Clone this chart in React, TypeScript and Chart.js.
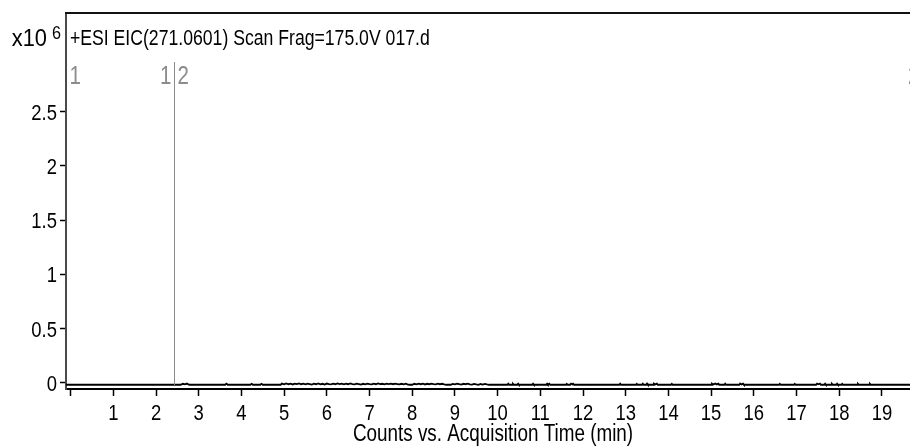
import React, { useEffect, useRef } from "react";
import { Chart, registerables } from "chart.js";

Chart.register(...registerables);

// ---- Data ----
const chartTitle = "+ESI EIC(271.0601) Scan Frag=175.0V 017.d";
const xAxisTitle = "Counts vs. Acquisition Time (min)";
const yMultiplierBase = "x10";
const yMultiplierExp = "6";

const xTickValues = [0, 1, 2, 3, 4, 5, 6, 7, 8, 9, 10, 11, 12, 13, 14, 15, 16, 17, 18, 19];
const xTickLabels = ["", "1", "2", "3", "4", "5", "6", "7", "8", "9", "10", "11", "12", "13", "14", "15", "16", "17", "18", "19"];
const yTickValues = [0, 0.5, 1, 1.5, 2, 2.5];
const yTickLabels = ["0", "0.5", "1", "1.5", "2", "2.5"];

// segment boundaries (min) and their labels on each side
const segmentBoundaries = [-0.108, 2.433, 19.95];
const segmentLabelsLeft = ["", "1", "2"]; // label to the left of boundary
const segmentLabelsRight = ["1", "2", ""]; // label to the right of boundary

// trace, time (min) / counts (x10^6)
const earlyTrace: [number, number][] = [
  [-0.11, -0.018], [2.58, -0.018], [2.63, -0.009], [2.68, -0.014], [2.72, -0.007], [2.78, -0.018],
  [3.62, -0.018], [3.65, -0.008], [3.68, -0.018],
  [4.21, -0.018], [4.24, -0.009], [4.27, -0.018],
  [4.44, -0.018], [4.47, -0.009], [4.50, -0.018], [4.92, -0.018],
];
const noiseTrace: [number, number][] = [
  [4.95, -0.007], [5.00, -0.014], [5.05, -0.006], [5.10, -0.013], [5.15, -0.008], [5.20, -0.015],
  [5.25, -0.007], [5.30, -0.012], [5.35, -0.006], [5.40, -0.013], [5.45, -0.008], [5.50, -0.014],
  [5.55, -0.007], [5.60, -0.011], [5.65, -0.016], [5.70, -0.008], [5.75, -0.013], [5.80, -0.006],
  [5.85, -0.014], [5.90, -0.009], [5.95, -0.016], [6.00, -0.007], [6.05, -0.012], [6.10, -0.015],
  [6.15, -0.008], [6.20, -0.013], [6.25, -0.006], [6.30, -0.012], [6.35, -0.008], [6.40, -0.014],
  [6.45, -0.007], [6.50, -0.013], [6.55, -0.006], [6.60, -0.011], [6.65, -0.015], [6.70, -0.008],
  [6.75, -0.012], [6.80, -0.016], [6.85, -0.009], [6.90, -0.014], [6.95, -0.007], [7.00, -0.012],
  [7.05, -0.015], [7.10, -0.008], [7.15, -0.013], [7.20, -0.006], [7.25, -0.012], [7.30, -0.009],
  [7.35, -0.014], [7.40, -0.007], [7.45, -0.012], [7.50, -0.008], [7.55, -0.013], [7.60, -0.007],
  [7.65, -0.011], [7.70, -0.015], [7.75, -0.009], [7.80, -0.014], [7.85, -0.008], [7.90, -0.016],
  [7.95, -0.018], [8.00, -0.018], [8.05, -0.009], [8.10, -0.014], [8.15, -0.007], [8.20, -0.013],
  [8.25, -0.008], [8.30, -0.015], [8.35, -0.009], [8.40, -0.013], [8.45, -0.007], [8.50, -0.012],
  [8.55, -0.015], [8.60, -0.008], [8.65, -0.013], [8.70, -0.009], [8.75, -0.015], [8.80, -0.018],
  [8.90, -0.018], [8.95, -0.010], [9.00, -0.014], [9.05, -0.008], [9.10, -0.013], [9.15, -0.016],
  [9.20, -0.009], [9.25, -0.013], [9.30, -0.008], [9.35, -0.014], [9.40, -0.017], [9.45, -0.010],
  [9.50, -0.015], [9.55, -0.018], [9.60, -0.011], [9.65, -0.016], [9.70, -0.010], [9.75, -0.015],
  [9.80, -0.018],
];
const lateTrace: [number, number][] = [
  [10.23, -0.018], [10.25, -0.008], [10.27, -0.018],
  [10.34, -0.018], [10.36, -0.009], [10.38, -0.018],
  [10.46, -0.018], [10.48, -0.008], [10.50, -0.018],
  [10.81, -0.018], [10.83, -0.008], [10.85, -0.018],
  [11.14, -0.018], [11.16, -0.007], [11.18, -0.016], [11.21, -0.008], [11.23, -0.018],
  [11.60, -0.018], [11.62, -0.009], [11.64, -0.018],
  [11.70, -0.018], [11.72, -0.007], [11.75, -0.014], [11.77, -0.008], [11.79, -0.018],
  [12.85, -0.018], [12.87, -0.008], [12.89, -0.018],
  [13.24, -0.018], [13.26, -0.009], [13.28, -0.018],
  [13.38, -0.018], [13.40, -0.008], [13.42, -0.018],
  [13.48, -0.018], [13.50, -0.007], [13.52, -0.018],
  [13.64, -0.018], [13.66, -0.008], [13.69, -0.015], [13.73, -0.008], [13.75, -0.018],
  [14.06, -0.018], [14.08, -0.009], [14.10, -0.018],
  [15.00, -0.018], [15.02, -0.008], [15.05, -0.015], [15.10, -0.007], [15.13, -0.015], [15.17, -0.008], [15.19, -0.018],
  [15.31, -0.018], [15.33, -0.008], [15.35, -0.018],
  [15.66, -0.018], [15.68, -0.007], [15.71, -0.015], [15.75, -0.008], [15.77, -0.018],
  [16.59, -0.018], [16.61, -0.010], [16.63, -0.018],
  [16.94, -0.018], [16.96, -0.009], [16.98, -0.018],
  [17.46, -0.018], [17.48, -0.007], [17.51, -0.014], [17.55, -0.008], [17.57, -0.018],
  [17.65, -0.018], [17.67, -0.008], [17.69, -0.018],
  [17.81, -0.018], [17.83, -0.009], [17.85, -0.018],
  [17.93, -0.018], [17.95, -0.008], [17.97, -0.018],
  [18.05, -0.018], [18.07, -0.009], [18.09, -0.018],
  [18.42, -0.018], [18.44, -0.009], [18.46, -0.018],
  [18.70, -0.018], [18.72, -0.009], [18.74, -0.018],
  [19.70, -0.018],
];

// ---- Layout / style ----
const W = 910;
const H = 448;
const X_MIN = -0.108;
const X_MAX = 19.658;
const Y_MIN = -0.057;
const Y_MAX = 3.408;
const PLOT_LEFT = 66;
const PLOT_TOP = 13;
const PLOT_BOTTOM = 389;
const FONT = '"Liberation Sans", Arial, Helvetica, sans-serif';
const NARROW = 0.82;

function narrowText(
  ctx: CanvasRenderingContext2D,
  text: string,
  x: number,
  y: number,
  size: number,
  align: CanvasTextAlign,
  color: string,
  sx: number = NARROW
) {
  ctx.save();
  ctx.font = `${size}px ${FONT}`;
  ctx.fillStyle = color;
  ctx.textAlign = align;
  ctx.textBaseline = "alphabetic";
  ctx.translate(x, y);
  ctx.scale(sx, 1);
  ctx.fillText(text, 0, 0);
  ctx.restore();
}

const decorPlugin = {
  id: "decor",
  afterDatasetsDraw(chart: any) {
    const ctx: CanvasRenderingContext2D = chart.ctx;
    const xs = chart.scales.x;
    const area = chart.chartArea;

    // segment boundary lines + labels
    ctx.save();
    ctx.strokeStyle = "#8c8c8c";
    ctx.lineWidth = 1;
    segmentBoundaries.forEach((t, i) => {
      const px = Math.round(xs.getPixelForValue(t)) + 0.5;
      if (i > 0 && px < area.right) {
        ctx.beginPath();
        ctx.moveTo(px, 62);
        ctx.lineTo(px, area.bottom - 4);
        ctx.stroke();
      }
      if (segmentLabelsLeft[i]) narrowText(ctx, segmentLabelsLeft[i], px - 3, 84, 25, "right", "#8c8c8c");
      if (segmentLabelsRight[i]) narrowText(ctx, segmentLabelsRight[i], px + 3, 84, 25, "left", "#8c8c8c");
    });
    ctx.restore();
  },
  afterDraw(chart: any) {
    const ctx: CanvasRenderingContext2D = chart.ctx;
    const xs = chart.scales.x;
    const ys = chart.scales.y;
    const area = chart.chartArea;

    // top frame line
    ctx.save();
    ctx.strokeStyle = "#111";
    ctx.lineWidth = 2;
    ctx.beginPath();
    ctx.moveTo(area.left - 1, area.top);
    ctx.lineTo(W, area.top);
    ctx.stroke();
    ctx.restore();

    // x tick labels
    xTickValues.forEach((v, i) => {
      const lbl = xTickLabels[i];
      if (!lbl) return;
      narrowText(ctx, lbl, xs.getPixelForValue(v), 420, 22.5, "center", "#000");
    });
    // y tick labels
    yTickValues.forEach((v, i) => {
      narrowText(ctx, yTickLabels[i], 57, ys.getPixelForValue(v) + 8, 22.5, "right", "#000");
    });
    // axis title
    narrowText(ctx, xAxisTitle, 493, 441, 23, "center", "#000");
    // chart title
    narrowText(ctx, chartTitle, 70, 45, 21.5, "left", "#000");
    // multiplier
    narrowText(ctx, yMultiplierBase, 47, 46, 23, "right", "#000", 0.95);
    narrowText(ctx, yMultiplierExp, 52, 39, 18, "left", "#000", 0.9);
  },
};

export default function App() {
  const ref = useRef<HTMLCanvasElement | null>(null);

  useEffect(() => {
    if (!ref.current) return;
    const points = [...earlyTrace, ...noiseTrace, ...lateTrace].map(([x, y]) => ({ x, y }));
    const chart = new Chart(ref.current, {
      type: "line",
      data: {
        datasets: [
          {
            data: points,
            borderColor: "#000",
            borderWidth: 1.8,
            pointRadius: 0,
            tension: 0,
            fill: false,
          },
        ],
      },
      options: {
        animation: false,
        responsive: false,
        devicePixelRatio: 1,
        layout: { padding: { top: PLOT_TOP, left: 0, right: 0, bottom: 0 } },
        plugins: {
          legend: { display: false },
          tooltip: { enabled: false },
          title: { display: false },
        },
        scales: {
          x: {
            type: "linear",
            min: X_MIN,
            max: X_MAX,
            afterBuildTicks: (scale: any) => {
              scale.ticks = xTickValues.map((v) => ({ value: v }));
            },
            afterFit: (scale: any) => {
              scale.height = H - PLOT_BOTTOM;
            },
            ticks: { display: false },
            grid: {
              display: true,
              drawOnChartArea: false,
              drawTicks: true,
              tickLength: 7,
              tickColor: "#000",
              tickWidth: 1.5,
            },
            border: { display: true, color: "#000", width: 2 },
          },
          y: {
            type: "linear",
            min: Y_MIN,
            max: Y_MAX,
            afterBuildTicks: (scale: any) => {
              scale.ticks = yTickValues.map((v) => ({ value: v }));
            },
            afterFit: (scale: any) => {
              scale.width = PLOT_LEFT;
            },
            ticks: { display: false },
            grid: {
              display: true,
              drawOnChartArea: false,
              drawTicks: true,
              tickLength: 6,
              tickColor: "#000",
              tickWidth: 1.5,
            },
            border: { display: true, color: "#4a4a4a", width: 2 },
          },
        },
      } as any,
      plugins: [decorPlugin],
    });
    return () => chart.destroy();
  }, []);

  return (
    <div style={{ position: "fixed", left: 0, top: 0, width: W, height: H, background: "#fff" }}>
      <canvas ref={ref} width={W} height={H} style={{ width: W, height: H, display: "block" }} />
    </div>
  );
}
